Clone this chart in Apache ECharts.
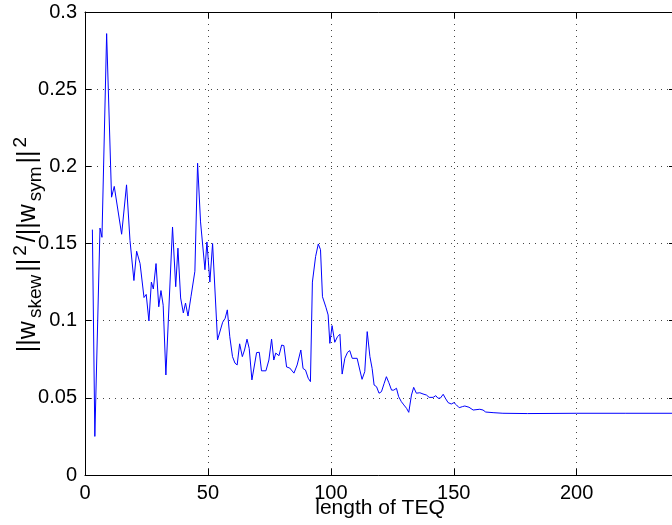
<!DOCTYPE html>
<html>
<head>
<meta charset="utf-8">
<script src="https://cdn.jsdelivr.net/npm/echarts@6/dist/echarts.min.js"></script>
<style>
html,body{margin:0;padding:0;background:#fff;}
#chart{width:672px;height:525px;}
</style>
</head>
<body>
<div id="chart"></div>
<script>
// Data (length of TEQ vs ratio)
var xs = [3, 4, 6.1, 6.9, 8.8, 10.8, 11.9, 14.9, 16.9, 18.3, 19.9, 21, 22.4, 24, 24.9, 26, 27, 27.8, 28.9, 30, 30.9, 31.8, 32.9,
  35.6, 36.9, 37.8, 38.9, 40, 40.9, 41.9, 43.1, 44.7, 45.8, 47, 48.8, 49.6, 50.8, 51.9, 53.9, 56, 57, 57.9, 58.9, 60, 61, 61.9,
  62.9, 64, 64.9, 65.9, 66.8, 67.9, 68.7, 69.8, 70.9, 71.8, 73.6, 74.8, 75.9, 76.8, 77.6, 78.9, 80, 80.9, 82, 83.3, 84, 85,
  86.3, 87.8, 88.7, 89.7, 90.8, 91.7, 92.5, 93.8, 94.9, 95.8, 96.6, 98, 98.9, 99.6, 100.5, 101.6, 102.7, 103.7, 104.6, 105.7,
  106.8, 107.7, 108.7, 110.7, 111.8, 112.7, 113.8, 114.8, 115.9, 116.8, 117.6, 118.6, 119.6, 120.6, 121.7, 122.6, 123.6, 124.7,
  125.6, 126.7, 127.6, 128.7, 129.7, 130.8, 131.7, 132.8, 133.7, 134.8, 136.2, 137.5, 138.9, 140, 141.6, 142.7, 143.6, 144.6,
  145.7, 146.6, 147.7, 149, 150.1, 151.1, 152.2, 153.5, 154.5, 156.2, 157.9, 160.6, 161.9, 163, 166, 170, 180, 200, 220, 240];
var ys = [0.159, 0.025, 0.160, 0.154, 0.286, 0.180, 0.187, 0.156, 0.188, 0.152, 0.126, 0.145, 0.137, 0.115, 0.117, 0.0998, 0.125, 0.1205, 0.137, 0.109, 0.1195, 0.110, 0.0648,
  0.1607, 0.122, 0.147, 0.1147, 0.105, 0.1114, 0.103, 0.1155, 0.132, 0.202, 0.164, 0.133, 0.151, 0.125, 0.150, 0.0875, 0.099, 0.1015, 0.107, 0.0896, 0.0767, 0.0725, 0.0713,
  0.085, 0.0767, 0.081, 0.088, 0.082, 0.0616, 0.0628, 0.0793, 0.0795, 0.0675, 0.0675, 0.0745, 0.088, 0.0745, 0.079, 0.0773, 0.0842, 0.0838, 0.070, 0.0693, 0.0687, 0.066,
  0.0713, 0.081, 0.069, 0.068, 0.0627, 0.0605, 0.125, 0.1415, 0.1497, 0.146, 0.1155, 0.1087, 0.1037, 0.0853, 0.0968, 0.086, 0.0896, 0.0912, 0.0654, 0.0756,
  0.0795, 0.0806, 0.0756, 0.0756, 0.068, 0.062, 0.067, 0.0929, 0.0767, 0.069, 0.0583, 0.0572, 0.053, 0.054, 0.0594, 0.0637, 0.0598, 0.055,
  0.055, 0.0562, 0.0507, 0.0475, 0.0454, 0.0432, 0.0406, 0.0518, 0.0568, 0.053, 0.0533, 0.0525, 0.0518, 0.0503, 0.0503, 0.0514, 0.0497, 0.0499,
  0.0523, 0.0497, 0.0469, 0.046, 0.0469, 0.0454, 0.0436, 0.0443, 0.0447, 0.0439, 0.0421, 0.0426, 0.0421, 0.0408, 0.0404, 0.0400, 0.0398, 0.0400, 0.0400, 0.0400];
var xTicks = [0, 50, 100, 150, 200];
var yTicks = [0, 0.05, 0.1, 0.15, 0.2, 0.25, 0.3];
var xLabel = 'length of TEQ';

var FONT = 'Liberation Sans, Arial, Helvetica, sans-serif';
var chart = echarts.init(document.getElementById('chart'), null, {renderer: 'canvas'});
var pts = xs.map(function (x, i) { return [x, ys[i]]; });
var gridLine = {show: true, lineStyle: {color: '#444', width: 1, type: [1, 5]}};
var tick = {show: true, inside: true, length: 6, lineStyle: {color: '#000', width: 1}};
var line = {show: true, onZero: false, lineStyle: {color: '#000', width: 1}};

chart.setOption({
  animation: false,
  backgroundColor: '#fff',
  grid: {left: 85, top: 12, width: 590, height: 463, containLabel: false, outerBoundsMode: 'none'},
  xAxis: [{
    type: 'value', min: 0, max: 240, interval: 50, position: 'bottom',
    axisLine: line, axisTick: tick, splitLine: gridLine,
    axisLabel: {show: true, color: '#000', fontSize: 20, fontFamily: FONT, margin: 8, showMaxLabel: false,
      formatter: function (v) { return xTicks.indexOf(v) >= 0 ? String(v) : ''; }},
    name: xLabel, nameLocation: 'middle', nameGap: 23, nameMoveOverlap: false,
    nameTextStyle: {color: '#000', fontSize: 21, fontFamily: FONT}
  }, {
    type: 'value', min: 0, max: 240, interval: 50, position: 'top',
    axisLine: line, axisTick: tick, splitLine: {show: false}, axisLabel: {show: false}
  }],
  yAxis: [{
    type: 'value', min: 0, max: 0.3, interval: 0.05, position: 'left',
    axisLine: line, axisTick: tick, splitLine: gridLine,
    axisLabel: {show: true, color: '#000', fontSize: 20, fontFamily: FONT, margin: 8,
      formatter: function (v) { var r = +v.toFixed(2); return yTicks.indexOf(r) >= 0 ? String(r) : ''; }}
  }, {
    type: 'value', min: 0, max: 0.3, interval: 0.05, position: 'right',
    axisLine: line, axisTick: tick, splitLine: {show: false}, axisLabel: {show: false}
  }],
  graphic: [{
    type: 'text', x: 28, y: 245, rotation: Math.PI / 2,
    style: {
      text: '{m|||w}{sub|skew}{m|||}{sup|2}{m|/||w}{sub|sym}{m|||}{sup|2}',
      fontSize: 25, fontFamily: FONT, fill: '#000', align: 'center', verticalAlign: 'middle',
      lineHeight: 34,
      rich: {
        m: {fontSize: 25, fontFamily: FONT, lineHeight: 34, verticalAlign: 'middle', fill: '#000', padding: [0, 2, 0, 2]},
        sub: {fontSize: 19, fontFamily: FONT, lineHeight: 19, verticalAlign: 'bottom', fill: '#000', padding: [0, 1, 0, 1]},
        sup: {fontSize: 19, fontFamily: FONT, lineHeight: 19, verticalAlign: 'top', fill: '#000', padding: [0, 1, 0, 1]}
      }
    }
  }],
  series: [{
    type: 'line', xAxisIndex: 0, yAxisIndex: 0, data: pts,
    showSymbol: false, symbol: 'none', clip: true,
    lineStyle: {color: '#0000ff', width: 1}
  }]
});
</script>
</body>
</html>
